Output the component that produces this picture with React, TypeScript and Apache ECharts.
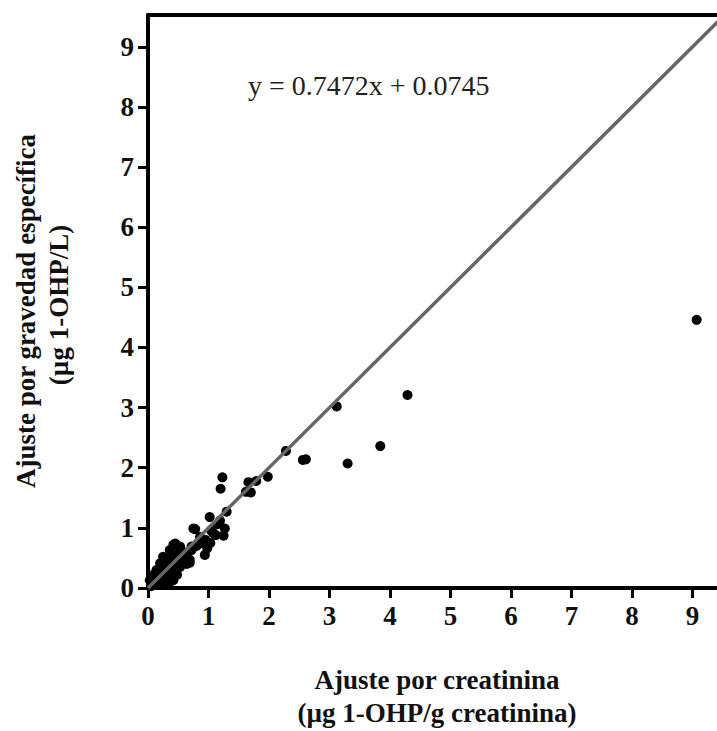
import React, { useEffect, useRef } from "react";
import * as echarts from "echarts";

const xValues = [9.07, 4.29, 3.12, 3.84, 3.30, 2.61, 2.56, 2.28, 1.98, 1.79, 1.66, 1.70, 1.62, 1.23, 1.20, 1.30, 1.02, 1.19, 1.15, 1.27, 1.25, 1.08, 1.12, 1.03, 0.78, 0.94, 0.98, 0.86, 0.90, 0.83, 0.72, 0.69, 0.64, 0.58, 0.53, 0.42, 0.53, 0.36, 0.39, 0.25, 0.31, 0.67, 0.45, 0.75, 0.86, 0.72, 0.69, 0.25, 0.20, 0.14, 0.09, 0.39, 0.53, 0.50, 0.31, 0.20, 0.42, 0.14, 0.09, 0.20, 0.03, 0.25, 0.36, 0.42, 0.31, 0.47, 0.17, 0.36, 0.25, 0.12, 0.53, 0.25, 0.05, 0.08, 0.15, 0.30, 0.45, 0.60, 0.35, 0.28, 0.10, 0.18, 0.40, 0.48, 0.57, 0.62, 0.80, 0.95, 1.05, 0.33, 0.22];
const yValues = [4.46, 3.21, 3.02, 2.36, 2.07, 2.14, 2.13, 2.28, 1.85, 1.78, 1.76, 1.59, 1.60, 1.84, 1.65, 1.27, 1.18, 1.12, 1.06, 0.99, 0.87, 0.91, 0.88, 0.75, 0.98, 0.55, 0.66, 0.85, 0.80, 0.74, 0.69, 0.42, 0.40, 0.60, 0.52, 0.72, 0.69, 0.63, 0.55, 0.41, 0.47, 0.44, 0.74, 0.99, 0.74, 0.63, 0.47, 0.52, 0.41, 0.30, 0.22, 0.35, 0.41, 0.58, 0.19, 0.10, 0.13, 0.24, 0.19, 0.30, 0.13, 0.24, 0.19, 0.30, 0.35, 0.35, 0.10, 0.10, 0.13, 0.05, 0.35, 0.35, 0.03, 0.06, 0.15, 0.26, 0.45, 0.50, 0.45, 0.30, 0.12, 0.20, 0.28, 0.22, 0.45, 0.55, 0.70, 0.80, 0.95, 0.08, 0.05];
const tickValues = [0, 1, 2, 3, 4, 5, 6, 7, 8, 9];
const identityLine = [[0, 0], [10, 10]];
const equationText = "y = 0.7472x + 0.0745";
const xTitle = ["Ajuste por creatinina", "(µg 1-OHP/g creatinina)"];
const yTitle = ["Ajuste por gravedad específica", "(µg 1-OHP/L)"];

const FONT = "'Liberation Serif', 'Times New Roman', serif";

export default function App() {
  const ref = useRef<HTMLDivElement>(null);
  useEffect(() => {
    if (!ref.current) return;
    const chart = echarts.init(ref.current, null, { renderer: "svg" });
    const points = xValues.map((x, i) => [x, yValues[i]]);
    const labelStyle = { fontFamily: FONT, fontWeight: "bold" as const, fontSize: 27, color: "#111" };
    const titleStyle = { fontFamily: FONT, fontWeight: "bold" as const, fontSize: 27, fill: "#111", align: "center" as const, verticalAlign: "middle" as const };
    chart.setOption({
      animation: false,
      backgroundColor: "#fff",
      grid: { left: 148, top: 15, width: 568, height: 573, containLabel: false },
      xAxis: [
        {
          type: "value", min: 0, max: 9.39, position: "bottom",
          splitLine: { show: false },
          axisLine: { show: true, lineStyle: { color: "#000", width: 4 } },
          axisTick: { show: true, customValues: tickValues, length: 10, lineStyle: { color: "#000", width: 3 } },
          axisLabel: { show: true, customValues: tickValues, margin: 14, ...labelStyle },
        },
        {
          type: "value", min: 0, max: 9.39, position: "top",
          splitLine: { show: false },
          axisLine: { show: true, onZero: false, lineStyle: { color: "#000", width: 4 } },
          axisTick: { show: false },
          axisLabel: { show: false },
        },
      ],
      yAxis: {
        type: "value", min: 0, max: 9.53,
        splitLine: { show: false },
        axisLine: { show: true, lineStyle: { color: "#000", width: 4 } },
        axisTick: { show: true, customValues: tickValues, length: 10, lineStyle: { color: "#000", width: 3 } },
        axisLabel: { show: true, customValues: tickValues, margin: 14, ...labelStyle },
      },
      series: [
        {
          type: "line",
          data: identityLine,
          clip: true,
          symbol: "none",
          lineStyle: { color: "#666", width: 3.5 },
          z: 3,
        },
        {
          type: "scatter",
          data: points,
          symbol: "circle",
          symbolSize: 10,
          itemStyle: { color: "#000", opacity: 1 },
          z: 2,
        },
      ],
      graphic: [
        {
          type: "text", left: 248, top: 71,
          style: { text: equationText, fontFamily: FONT, fontSize: 28, fill: "#222" },
        },
        { type: "text", x: 437, y: 680, style: { text: xTitle[0], ...titleStyle } },
        { type: "text", x: 437, y: 713, style: { text: xTitle[1], ...titleStyle } },
        { type: "text", x: 26, y: 311, rotation: Math.PI / 2, style: { text: yTitle[0], ...titleStyle } },
        { type: "text", x: 59, y: 305, rotation: Math.PI / 2, style: { text: yTitle[1], ...titleStyle } },
      ],
    });
    return () => chart.dispose();
  }, []);
  return <div ref={ref} style={{ width: 717, height: 731, position: "absolute", left: 0, top: 0 }} />;
}
